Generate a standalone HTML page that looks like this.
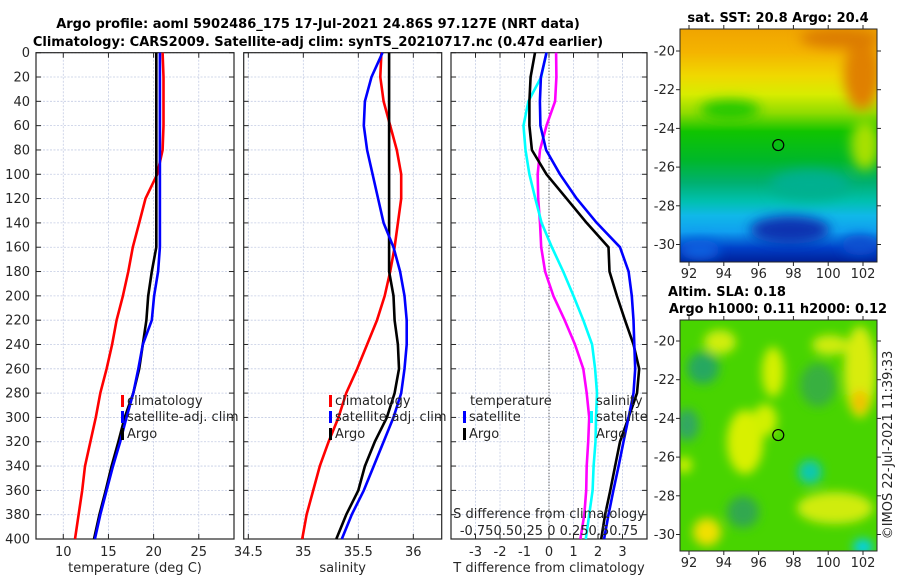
<!DOCTYPE html>
<html><head><meta charset="utf-8"><style>
html,body{margin:0;padding:0;background:#fff;}
svg{display:block;font-family:"DejaVu Sans","Liberation Sans",sans-serif;}
</style></head><body>
<svg id="fig" width="900" height="580" viewBox="0 0 900 580">
<defs>
<linearGradient id="sstGrad" x1="0" y1="0" x2="0" y2="1">
<stop offset="0" stop-color="#f0a400"/><stop offset="0.1" stop-color="#f4b400"/>
<stop offset="0.2" stop-color="#f0d800"/><stop offset="0.28" stop-color="#d8ec00"/>
<stop offset="0.36" stop-color="#90dc00"/><stop offset="0.44" stop-color="#10c400"/>
<stop offset="0.56" stop-color="#00b828"/><stop offset="0.66" stop-color="#00b070"/>
<stop offset="0.74" stop-color="#00c0b0"/><stop offset="0.8" stop-color="#10b8e8"/>
<stop offset="0.87" stop-color="#10a0f0"/><stop offset="0.94" stop-color="#0040c8"/>
<stop offset="1" stop-color="#002098"/></linearGradient>
<filter id="blur6"><feGaussianBlur stdDeviation="6"/></filter>
<filter id="blur9"><feGaussianBlur stdDeviation="5"/></filter>
<clipPath id="clipTop"><rect x="680" y="29" width="197" height="233"/></clipPath>
<clipPath id="clipBot"><rect x="680" y="320" width="197" height="231"/></clipPath>
</defs>
<g id="panels"></g>
<g id="maps"></g>
</svg>
<script>
// ---------- data ----------
const depths = [0,20,40,60,80,100,120,140,160,180,200,220,240,260,280,300,320,340,360,380,400];
const tempClim = [21.0,21.1,21.1,21.1,21.0,20.4,19.1,18.4,17.7,17.2,16.6,15.9,15.4,14.8,14.1,13.6,13.0,12.4,12.1,11.7,11.3];
const tempSat  = [20.7,20.7,20.7,20.7,20.7,20.7,20.7,20.7,20.7,20.5,20.05,19.8,18.8,18.3,17.75,17.0,16.3,15.5,14.8,14.1,13.5];
const tempArgo = [20.3,20.3,20.3,20.3,20.3,20.3,20.3,20.3,20.3,19.8,19.4,19.2,18.8,18.4,17.75,16.8,16.1,15.35,14.7,14.0,13.4];
const salClim = [35.71,35.70,35.73,35.79,35.85,35.89,35.89,35.86,35.83,35.79,35.74,35.67,35.58,35.49,35.39,35.32,35.23,35.15,35.09,35.03,34.99];
const salSat  = [35.72,35.62,35.56,35.55,35.58,35.63,35.68,35.73,35.82,35.88,35.92,35.94,35.94,35.92,35.89,35.82,35.73,35.64,35.55,35.44,35.35];
const salArgo = [35.78,35.78,35.78,35.78,35.78,35.78,35.78,35.78,35.78,35.78,35.82,35.83,35.86,35.87,35.83,35.76,35.65,35.56,35.50,35.39,35.30];
const tDiffSat  = [-0.1,-0.33,-0.37,-0.35,-0.12,0.45,1.13,1.95,2.9,3.25,3.38,3.45,3.48,3.52,3.45,3.25,3.04,2.84,2.63,2.43,2.25];
const tDiffArgo = [-0.57,-0.75,-0.8,-0.8,-0.7,-0.1,0.72,1.54,2.43,2.47,2.77,3.1,3.45,3.68,3.59,3.25,2.9,2.7,2.5,2.29,2.13];
const sDiffSat  = [-0.025,-0.08,-0.21,-0.26,-0.24,-0.2,-0.14,-0.075,0.03,0.145,0.25,0.35,0.44,0.47,0.49,0.48,0.475,0.455,0.445,0.41,0.375];
const sDiffArgo = [0.072,0.075,0.062,-0.025,-0.092,-0.115,-0.11,-0.092,-0.08,-0.04,0.045,0.16,0.265,0.35,0.385,0.41,0.4,0.385,0.38,0.36,0.32];
const depthTicks = [0,20,40,60,80,100,120,140,160,180,200,220,240,260,280,300,320,340,360,380,400];
const tempTicks = [10,15,20,25];
const salTicks = [34.5,35,35.5,36];
const diffTicks = [-3,-2,-1,0,1,2,3];
const lonTicks = [92,94,96,98,100,102];
const latTicks = [-20,-22,-24,-26,-28,-30];
const argoLon = 97.13, argoLat = -24.86;

const NS="http://www.w3.org/2000/svg";
function mk(tag,attrs,parent){const e=document.createElementNS(NS,tag);for(const k in attrs)e.setAttribute(k,attrs[k]);parent.appendChild(e);return e;}
const P=document.getElementById('panels');
const top0=52.7, bot0=539;
function yD(d){return top0+(bot0-top0)*d/400;}
function makeX(x0,x1,v0,v1){return v=>x0+(v-v0)/(v1-v0)*(x1-x0);}
const panels=[
 {name:'temperature-panel',x0:36,x1:234,v0:6.98,v1:28.9,ticks:tempTicks,label:'temperature (deg C)'},
 {name:'salinity-panel',x0:243.7,x1:441.7,v0:34.458,v1:36.258,ticks:salTicks,label:'salinity'},
 {name:'difference-panel',x0:451,x1:647,v0:-4,v1:4,ticks:diffTicks,label:'T difference from climatology'}
];
panels.forEach((p,i)=>{
 p.X=makeX(p.x0,p.x1,p.v0,p.v1);
 const g=mk('g',{},P);
 
 
 depthTicks.forEach(d=>{
  mk('line',{x1:p.x0,x2:p.x1,y1:yD(d),y2:yD(d),stroke:'#c4cce4','stroke-width':0.8,'stroke-dasharray':'2,1.5'},g);
  mk('line',{x1:p.x0,x2:p.x0+5,y1:yD(d),y2:yD(d),stroke:'#262626','stroke-width':1},g);
  mk('line',{x1:p.x1-5,x2:p.x1,y1:yD(d),y2:yD(d),stroke:'#262626','stroke-width':1},g);
 });
 p.ticks.forEach((t,k)=>{
  const x=p.X(t);
  mk('line',{x1:x,x2:x,y1:top0,y2:bot0,stroke:'#c4cce4','stroke-width':0.8,'stroke-dasharray':'2,1.5'},g);
  mk('line',{x1:x,x2:x,y1:bot0-5,y2:bot0,stroke:'#262626'},g);
  mk('line',{x1:x,x2:x,y1:top0,y2:top0+5,stroke:'#262626'},g);
  const tx=mk('text',{x:x,y:556,'font-size':13,fill:'#262626','text-anchor':'middle'},g);
  tx.textContent=String(t);
  
  
 });
 const xl=mk('text',{x:(p.x0+p.x1)/2,y:572,'font-size':13,fill:'#262626','text-anchor':'middle'},g);
 xl.textContent=p.label;
 
 
 mk('rect',{x:p.x0,y:top0,width:p.x1-p.x0,height:bot0-top0,fill:'none',stroke:'#262626','stroke-width':1.2},g);
});
depthTicks.forEach(d=>{
 const t=mk('text',{x:30,y:yD(d)+4.5,'font-size':13,fill:'#262626','text-anchor':'end'},P);
 t.textContent=String(d);
 
 
});
function line(vals,X,color,name,w){
 const pts=vals.map((v,i)=>X(v).toFixed(1)+','+yD(depths[i]).toFixed(1)).join(' ');
 const e=mk('polyline',{points:pts,fill:'none',stroke:color,'stroke-width':w||2.6,'stroke-linejoin':'round'},P);
 
 
}
const [pT,pS,pD]=panels;
const zl=mk('line',{x1:pD.X(0),x2:pD.X(0),y1:top0,y2:bot0,stroke:'#333','stroke-width':1,'stroke-dasharray':'1,2'},P);


line(tempClim,pT.X,'#ff0000','temp-climatology-line');
line(tempArgo,pT.X,'#000','temp-argo-line');
line(tempSat,pT.X,'#0000ff','temp-satellite-line');
line(salClim,pS.X,'#ff0000','sal-climatology-line');
line(salArgo,pS.X,'#000','sal-argo-line');
line(salSat,pS.X,'#0000ff','sal-satellite-line');
const SX=v=>pD.X(v*4);
line(sDiffArgo,SX,'#ff00ff','sdiff-argo-line');
line(sDiffSat,SX,'#00ffff','sdiff-satellite-line');
line(tDiffArgo,pD.X,'#000','tdiff-argo-line');
line(tDiffSat,pD.X,'#0000ff','tdiff-satellite-line');

function txt(x,y,s,attrs,name,parent){const t=mk('text',Object.assign({x:x,y:y,'font-size':13,fill:'#262626'},attrs||{}),parent||P);t.textContent=s;return t;}
function legendItem(x,y,color,label,name){
 if(color){const m=mk('rect',{x:x,y:y-10,width:3,height:12,fill:color},P);}
 txt(x+6,y,label,{},name);
}
legendItem(121,405,'#ff0000','climatology','legend-temp-climatology');
legendItem(121,421,'#0000ff','satellite-adj. clim','legend-temp-satellite');
legendItem(121,438,'#000','Argo','legend-temp-argo');
legendItem(329,405,'#ff0000','climatology','legend-sal-climatology');
legendItem(329,421,'#0000ff','satellite-adj. clim','legend-sal-satellite');
legendItem(329,438,'#000','Argo','legend-sal-argo');
txt(470,405,'temperature',{},'legend-temperature-title');
legendItem(463,421,'#0000ff','satellite','legend-tdiff-satellite');
legendItem(463,438,'#000','Argo','legend-tdiff-argo');
txt(596,405,'salinity',{},'legend-salinity-title');
legendItem(590,421,'#00ffff','satellite','legend-sdiff-satellite');
legendItem(590,438,null,'Argo','legend-sdiff-argo');
txt(549,518,'S difference from climatology',{'text-anchor':'middle'},'s-axis-title');
txt(549,535,'-0.750.50.25 0 0.250.50.75',{'text-anchor':'middle'},'s-axis-tick-labels');
txt(318,28,'Argo profile: aoml 5902486_175 17-Jul-2021 24.86S 97.127E (NRT data)',{'text-anchor':'middle','font-weight':'bold',fill:'#000'},'figure-title-line1');
txt(318,46,'Climatology: CARS2009. Satellite-adj clim: synTS_20210717.nc (0.47d earlier)',{'text-anchor':'middle','font-weight':'bold',fill:'#000'},'figure-title-line2');

// ---------- maps ----------
const M=document.getElementById('maps');
const lonX=lon=>689+(lon-92)*17.4;
function drawMapAxes(yTop,yBot,lat20y,name){
 const latY=lat=>lat20y+(-20-lat)*19.35;
 const g=mk('g',{},M);
 
 
 mk('rect',{x:680,y:yTop,width:197,height:yBot-yTop,fill:'none',stroke:'#262626','stroke-width':1},g);
 lonTicks.forEach(l=>{
  const x=lonX(l);
  mk('line',{x1:x,x2:x,y1:yBot,y2:yBot+4,stroke:'#262626'},g);
  mk('line',{x1:x,x2:x,y1:yTop,y2:yTop-4,stroke:'#262626'},g);
  txt(x,yBot+16,String(l),{'text-anchor':'middle'},'lon-tick-label',g);
 });
 latTicks.forEach(l=>{
  const y=latY(l);
  mk('line',{x1:676,x2:680,y1:y,y2:y,stroke:'#262626'},g);
  mk('line',{x1:877,x2:881,y1:y,y2:y,stroke:'#262626'},g);
  txt(675,y+4.5,String(l),{'text-anchor':'end'},'lat-tick-label',g);
 });
 const c=mk('circle',{cx:lonX(argoLon),cy:latY(argoLat),r:5.5,fill:'none',stroke:'#000','stroke-width':1.2},g);
 
 
}
// SST map
const sst=mk('g',{'clip-path':'url(#clipTop)'},M);


mk('rect',{x:680,y:29,width:197,height:233,fill:'url(#sstGrad)'},sst);
const sb=mk('g',{filter:'url(#blur6)'},sst);
mk('ellipse',{cx:862,cy:75,rx:18,ry:35,fill:'#e08000'},sb);
mk('ellipse',{cx:840,cy:38,rx:40,ry:10,fill:'#dc7c00'},sb);
mk('ellipse',{cx:865,cy:145,rx:14,ry:25,fill:'#a8e000'},sb);
mk('ellipse',{cx:730,cy:110,rx:30,ry:10,fill:'#20c800'},sb);
mk('ellipse',{cx:790,cy:230,rx:40,ry:14,fill:'#0830b0'},sb);
mk('ellipse',{cx:700,cy:250,rx:20,ry:10,fill:'#1060e0'},sb);
mk('ellipse',{cx:810,cy:185,rx:40,ry:15,fill:'#00b090'},sb);
mk('ellipse',{cx:860,cy:245,rx:18,ry:10,fill:'#1050d0'},sb);
drawMapAxes(29,262,51,'sst-map');
// SLA map
const sla=mk('g',{'clip-path':'url(#clipBot)'},M);


mk('rect',{x:680,y:320,width:197,height:231,fill:'#48d400'},sla);
const lb=mk('g',{filter:'url(#blur9)'},sla);
[[703,368,16,16,'#28a860'],[687,425,12,16,'#30a860'],[810,472,12,12,'#10c8b0'],[743,512,16,16,'#30a850'],
 [818,385,18,22,'#38b040'],[863,547,10,8,'#00d0f0'],
 [720,342,16,12,'#d0ee10'],[773,372,11,25,'#d4f000'],[745,442,18,32,'#d8f000'],[765,420,12,16,'#d0f000'],
 [860,372,16,46,'#d8ec10'],[860,402,8,12,'#f0c000'],[830,345,18,10,'#d0ec10'],
 [835,508,38,16,'#d0ec10'],[707,532,14,14,'#f0e000'],[684,465,8,8,'#d0f000']].forEach(b=>{
 mk('ellipse',{cx:b[0],cy:b[1],rx:b[2],ry:b[3],fill:b[4]},lb);
});
drawMapAxes(320,551,341,'sla-map');
txt(778,22,'sat. SST: 20.8 Argo: 20.4',{'text-anchor':'middle','font-weight':'bold',fill:'#000'},'sst-map-title');
txt(727,296,'Altim. SLA: 0.18',{'text-anchor':'middle','font-weight':'bold',fill:'#000'},'sla-map-title');
txt(778,313,'Argo h1000: 0.11 h2000: 0.12',{'text-anchor':'middle','font-weight':'bold',fill:'#000'},'sla-map-subtitle');
txt(0,0,'©IMOS 22-Jul-2021 11:39:33',{'text-anchor':'middle',transform:'translate(892,445) rotate(-90)'},'copyright-label');
</script>
</body></html>
